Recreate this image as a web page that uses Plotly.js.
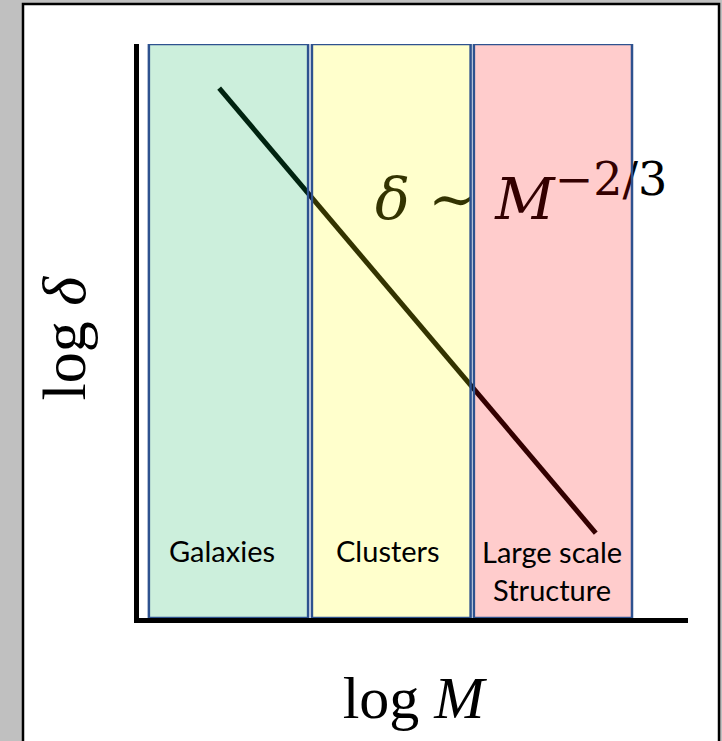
<!DOCTYPE html>
<html>
<head>
<meta charset="utf-8">
<script src="https://cdn.plot.ly/plotly-3.0.1.min.js"></script>
<style>html,body{margin:0;padding:0;background:#c0c0c0;}#chart{width:722px;height:741px;}</style>
</head>
<body>
<div id="chart"></div>
<script>
// Regions along log M (arbitrary units)
const regionNames = ["Galaxies", "Clusters", "Large scale<br>Structure"];
const regionStart = [0.18, 3.15, 6.10];
const regionEnd = [3.08, 6.04, 8.98];
const regionFill = ["rgba(0,176,80,0.2)", "rgba(255,255,0,0.2)", "rgba(255,0,0,0.2)"];
const regionLabelX = [1.51, 4.54, 7.52];
const regionLabelY = [1.17, 1.17, 0.82];
const regionBottom = 0;
const regionTop = 10;

// Power-law line delta ~ M^-2/3 (log-log)
const lineLogM = [1.46, 8.32];
const lineLogDelta = [9.23, 1.48];

// Formula label
const formulaX = [6.96];
const formulaY = [7.2];
const formulaText = ["<i>δ</i> ∼ <i>M</i><sup><span style=\"font-size:46px\">−2/3</span></sup>"];

const traces = [
  {
    x: lineLogM, y: lineLogDelta, mode: "lines", type: "scatter",
    line: {color: "#000000", width: 5}, hoverinfo: "skip", showlegend: false
  },
  {
    x: formulaX, y: formulaY, mode: "text", type: "scatter",
    text: formulaText, textposition: "middle center",
    textfont: {family: "DejaVu Serif", size: 58, color: "#000000"},
    hoverinfo: "skip", showlegend: false
  }
];

const shapes = [
  {
    type: "rect", xref: "paper", yref: "paper",
    x0: -0.2113, x1: 1.0565, y0: -0.25, y1: 1.0697,
    fillcolor: "#ffffff", line: {color: "#000000", width: 2.5}, layer: "below"
  }
];
regionNames.forEach((n, i) => {
  shapes.push({
    type: "rect", xref: "x", yref: "y",
    x0: regionStart[i], x1: regionEnd[i], y0: regionBottom, y1: regionTop,
    fillcolor: regionFill[i], line: {color: "#2e528f", width: 2.5}, layer: "above"
  });
});

const annotations = regionNames.map((n, i) => ({
  x: regionLabelX[i], y: regionLabelY[i], xref: "x", yref: "y",
  text: n, showarrow: false,
  font: {family: "Lato", size: 29, color: "#000000"},
  align: "center", xanchor: "center", yanchor: "middle"
}));

const layout = {
  width: 722, height: 741,
  margin: {l: 139, r: 34, t: 44, b: 123},
  paper_bgcolor: "#c0c0c0",
  plot_bgcolor: "rgba(0,0,0,0)",
  showlegend: false,
  xaxis: {
    range: [0, 10], showgrid: false, zeroline: false, showticklabels: false, ticks: "",
    showline: true, linecolor: "#000000", linewidth: 5,
    title: {text: "log <i>M</i>", font: {family: "Liberation Serif", size: 60, color: "#000000"}, standoff: 55}
  },
  yaxis: {
    range: [0, 10], showgrid: false, zeroline: false, showticklabels: false, ticks: "",
    showline: true, linecolor: "#000000", linewidth: 5,
    title: {text: "log <i>δ</i>&nbsp;", font: {family: "Liberation Serif", size: 62, color: "#000000"}, standoff: 30}
  },
  shapes: shapes,
  annotations: annotations
};

Plotly.newPlot("chart", traces, layout, {displayModeBar: false, staticPlot: true});
</script>
</body>
</html>
